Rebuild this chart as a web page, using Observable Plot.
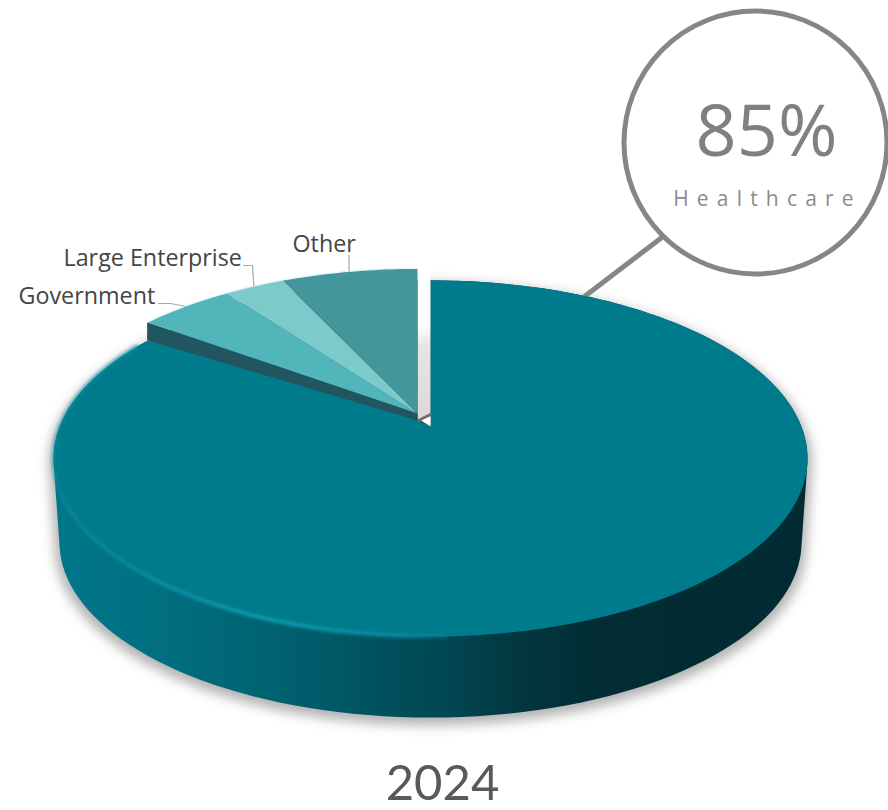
<!DOCTYPE html>
<html>
<head>
<meta charset="utf-8">
<script src="https://cdn.jsdelivr.net/npm/d3@7"></script>
<script src="https://cdn.jsdelivr.net/npm/@observablehq/plot@0.6"></script>
<style>
html,body{margin:0;padding:0;background:#fff;}
svg{display:block;}
</style>
</head>
<body>
<div id="chart"></div>
<script>
// Data
const categories = ["Healthcare", "Government", "Large Enterprise", "Other"];
const shares = [85, 4.9, 3.1, 7.0];
const colors = ["#007b8b", "#52b5ba", "#7ccaca", "#43979c"];
const calloutValue = "85%";
const calloutName = "Healthcare";
const yearLabel = "2024";

// Perspective of the disc
const k = -0.185, A = 172, B = 370.5;
const project = (deg, apex) => {
  const t = deg * Math.PI / 180, u = Math.sin(t), v = -Math.cos(t), d = 1 + k * v;
  return {x: apex.x + B * u / d, y: apex.y + A * v / d};
};
const mainApex = {x: 430, y: 425};
const smallApex = {x: 417, y: 413};
const toDeg = v => v / d3.sum(shares) * 360;
const range = (a, b, step = 1) => {
  const out = d3.range(a, b, step); out.push(b); return out;
};

// Angular edge of the large slice
const mainEnd = toDeg(shares[0]);
const overshoot = 3; // the large slice reaches slightly under the pulled-out ones

const mainArc = range(0, mainEnd + overshoot).map(d => project(d, mainApex));
const mainPoly = [mainApex, ...mainArc];
const fullRim = range(0, 360, 2).map(d => project(d, mainApex));
const lowerRim = fullRim.map(p => ({
  x: 431 + (p.x - 431) * 371 / 377,
  y: 542 + (p.y - 458) * 175 / 178
}));
const hull = d3.polygonHull([...fullRim, ...lowerRim].map(p => [p.x, p.y])).map(([x, y]) => ({x, y}));
const shadow = hull.map(p => ({x: 431 + (p.x - 431) * 1.012, y: 497 + (p.y - 492) * 1.012}));

// Pulled-out slices, clockwise after the large one
const order = [];
{
  let cur = mainEnd;
  for (const i of [1, 2, 3]) {
    const next = cur + toDeg(shares[i]);
    order.push({name: categories[i], color: colors[i], a: cur, b: next});
    cur = next;
  }
}
const wedgePts = order.flatMap(s =>
  [smallApex, ...range(s.a, s.b).map(d => project(d, smallApex))].map(p => ({...p, name: s.name}))
);
const colorOf = Object.fromEntries(order.map(s => [s.name, s.color]));

// Dark cut wall under the pulled-out slices
const cut = project(mainEnd, smallApex);
const cutWall = [smallApex, cut, {x: cut.x, y: cut.y + 18}, {x: smallApex.x, y: smallApex.y + 7}];

const rimPts = range(178, 300).map(d => project(d, mainApex));
const topEdge = range(mainEnd, 360).map(d => project(d, smallApex));

// Annotations
const labelPlace = {
  "Government": {x: 18, y: 303, elbow: [158, 170]},
  "Large Enterprise": {x: 63, y: 265, elbow: [243, 252]},
  "Other": {x: 292, y: 251, elbow: null}
};
const leaders = order.flatMap(s => {
  const end = project((s.a + s.b) / 2, smallApex);
  const place = labelPlace[s.name];
  const head = place.elbow
    ? [{x: place.elbow[0], y: place.y}, {x: place.elbow[1], y: place.y}]
    : [{x: end.x, y: 255}];
  return [...head, end].map(p => ({...p, name: s.name}));
});
const labels = order.map(s => ({name: s.name, ...labelPlace[s.name]}));
const calloutStart = project(29, mainApex);
const calloutLine = [calloutStart, {x: 660, y: 238}];
const gap = [{x: 417, y: 265}, {x: 430, y: 265}, {x: 430, y: 426}, {x: 417, y: 418}];
const gapLine = [{x: 418, y: 420}, {x: 430, y: 414}];
const gapFoot = [{x: 421, y: 420}, {x: 430, y: 416}, {x: 430, y: 425}];

const font = "'Open Sans', sans-serif";
const chart = Plot.plot({
  width: 888, height: 810,
  marginTop: 0, marginRight: 0, marginBottom: 0, marginLeft: 0,
  x: {domain: [0, 888], range: [0, 888], axis: null},
  y: {domain: [0, 810], range: [0, 810], axis: null},
  style: {background: "#fff", overflow: "hidden"},
  marks: [
    Plot.line(shadow, {x: "x", y: "y", fill: "#000", fillOpacity: 0.3, stroke: "none", imageFilter: "blur(6px)"}),
    Plot.line(hull, {x: "x", y: "y", fill: "url(#wall)", stroke: "none"}),
    Plot.line(calloutLine, {x: "x", y: "y", stroke: "#868686", strokeWidth: 5}),
    Plot.line(mainPoly, {x: "x", y: "y", fill: colors[0], stroke: "none"}),
    Plot.line(gap, {x: "x", y: "y", fill: "url(#gapShade)", stroke: "none"}),
    Plot.line(gapLine, {x: "x", y: "y", stroke: "#7a6a68", strokeWidth: 3}),
    Plot.line(gapFoot, {x: "x", y: "y", fill: "#fff", stroke: "none"}),
    Plot.line(rimPts, {x: "x", y: "y", stroke: "url(#rim)", strokeWidth: 4, imageFilter: "blur(1.5px)"}),
    Plot.line(cutWall, {x: "x", y: "y", fill: "#215660", stroke: "none"}),
    Plot.line(wedgePts, {x: "x", y: "y", z: "name", fill: d => colorOf[d.name], stroke: "none"}),
    Plot.line(topEdge, {x: "x", y: "y", stroke: "#e4f6f6", strokeWidth: 1.2}),
    Plot.line(leaders, {x: "x", y: "y", z: "name", stroke: "#a8a8a8", strokeWidth: 1.2}),
    Plot.dot([{x: 755, y: 142}], {x: "x", y: "y", r: 131.5, fill: "#fff", stroke: "#868686", strokeWidth: 5}),
    Plot.text(labels, {x: "x", y: "y", text: "name", textAnchor: "start", lineAnchor: "bottom", fontFamily: font, fontSize: 23.3, fill: "#454545"}),
    Plot.text([calloutValue], {x: () => 766, y: () => 155, text: d => d, lineAnchor: "bottom", fontFamily: font, fontSize: 72, fontWeight: 400, fill: "#808080"}),
    Plot.text([calloutName], {x: () => 767, y: () => 205, text: d => d, lineAnchor: "bottom", fontFamily: font, fontSize: 21, fontWeight: 400, fill: "#8c8c8c"}),
    Plot.text([yearLabel], {x: () => 442, y: () => 799.5, text: d => d, lineAnchor: "bottom", fontFamily: "Lato, sans-serif", fontSize: 49, fill: "#595959"})
  ]
});

// Gradients used by the marks
const defs = d3.select(chart).insert("defs", ":first-child");
const grad = (id, x1, x2, stops, y1 = 0, y2 = 0) => {
  const g = defs.append("linearGradient").attr("id", id).attr("gradientUnits", "userSpaceOnUse")
    .attr("x1", x1).attr("x2", x2).attr("y1", y1).attr("y2", y2);
  for (const [o, c, a] of stops) g.append("stop").attr("offset", o).attr("stop-color", c).attr("stop-opacity", a ?? 1);
};
grad("wall", 55, 805, [
  [0, "#007789"], [0.14, "#006f80"], [0.28, "#006372"], [0.42, "#005260"],
  [0.52, "#004753"], [0.62, "#03363f"], [0.72, "#022d35"], [1, "#022a32"]
]);
grad("rim", 55, 480, [
  [0, "#0a8fa2", 0.5], [0.5, "#0a9db3", 1], [0.8, "#0a97ac", 0.7], [1, "#0a97ac", 0]
]);
grad("gapShade", 0, 0, [[0, "#ffffff"], [0.38, "#ffffff"], [0.5, "#e6e4e4"], [1, "#dcd8d8"]], 265, 425);

d3.select(chart).selectAll("text").filter(function () { return this.textContent === calloutName; })
  .style("letter-spacing", "8.2px");

document.getElementById("chart").append(chart);
</script>
</body>
</html>
